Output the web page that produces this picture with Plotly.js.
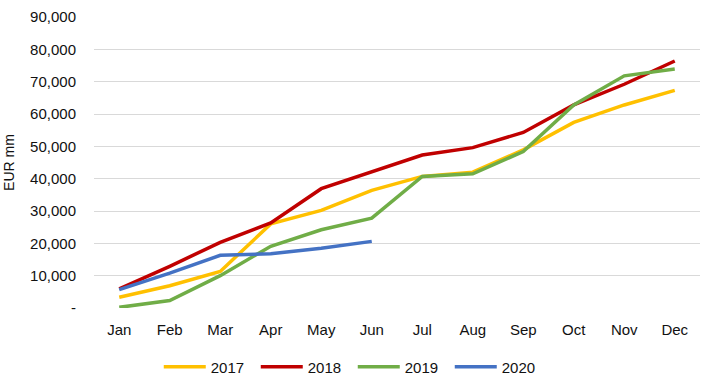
<!DOCTYPE html>
<html>
<head>
<meta charset="utf-8">
<script src="https://cdn.plot.ly/plotly-3.0.1.min.js"></script>
<style>html,body{margin:0;padding:0;background:#fff;}#chart{width:703px;height:376px;}</style>
</head>
<body>
<div id="chart"></div>
<script>
const months = ["Jan","Feb","Mar","Apr","May","Jun","Jul","Aug","Sep","Oct","Nov","Dec"];
const months2020 = ["Jan","Feb","Mar","Apr","May","Jun"];
const y2017 = [3300, 6900, 11300, 26000, 30200, 36400, 40700, 42000, 48900, 57400, 62800, 67300];
const y2018 = [5900, 12900, 20300, 26300, 36900, 42200, 47300, 49600, 54300, 62800, 69200, 76400];
const y2019 = [200, 2300, 10000, 19100, 24200, 27800, 40700, 41500, 48400, 62800, 71800, 73900];
const y2020 = [5700, 10800, 16300, 16800, 18500, 20600];
const yTickVals = [0,10000,20000,30000,40000,50000,60000,70000,80000,90000];
const yTickText = ["-","10,000","20,000","30,000","40,000","50,000","60,000","70,000","80,000","90,000"];

const lw = 3.5;
const traces = [
  {x: months, y: y2017, name: "2017", type: "scatter", mode: "lines", line: {color: "#FFC000", width: lw}},
  {x: months, y: y2018, name: "2018", type: "scatter", mode: "lines", line: {color: "#C00000", width: lw}},
  {x: months, y: y2019, name: "2019", type: "scatter", mode: "lines", line: {color: "#70AD47", width: lw}},
  {x: months2020, y: y2020, name: "2020", type: "scatter", mode: "lines", line: {color: "#4472C4", width: lw}}
];
const layout = {
  width: 703, height: 376,
  margin: {l: 94, r: 3, t: 17, b: 68, autoexpand: false},
  paper_bgcolor: "#fff", plot_bgcolor: "#fff",
  font: {family: "Liberation Sans, Arial, sans-serif", size: 15, color: "#111111"},
  showlegend: true,
  legend: {orientation: "h", x: 0.427, xanchor: "center", y: -0.203, yanchor: "middle",
           font: {size: 15, color: "#111111"}, itemwidth: 42, entrywidth: 40, entrywidthmode: "pixels"},
  xaxis: {type: "category", categoryarray: months, categoryorder: "array", range: [-0.5, 11.5],
          showgrid: false, zeroline: false, showline: false,
          ticks: "outside", ticklen: 8, tickcolor: "rgba(0,0,0,0)", fixedrange: true},
  yaxis: {range: [0, 90000], tickvals: yTickVals, ticktext: yTickText,
          showgrid: true, gridcolor: "#D9D9D9", gridwidth: 1, zeroline: false, showline: false,
          ticks: "outside", ticklen: 14, tickcolor: "rgba(0,0,0,0)",
          title: {text: "EUR mm", standoff: 12, font: {size: 14, color: "#111111"}}, fixedrange: true}
};
Plotly.newPlot("chart", traces, layout, {displayModeBar: false, staticPlot: true});
</script>
</body>
</html>
